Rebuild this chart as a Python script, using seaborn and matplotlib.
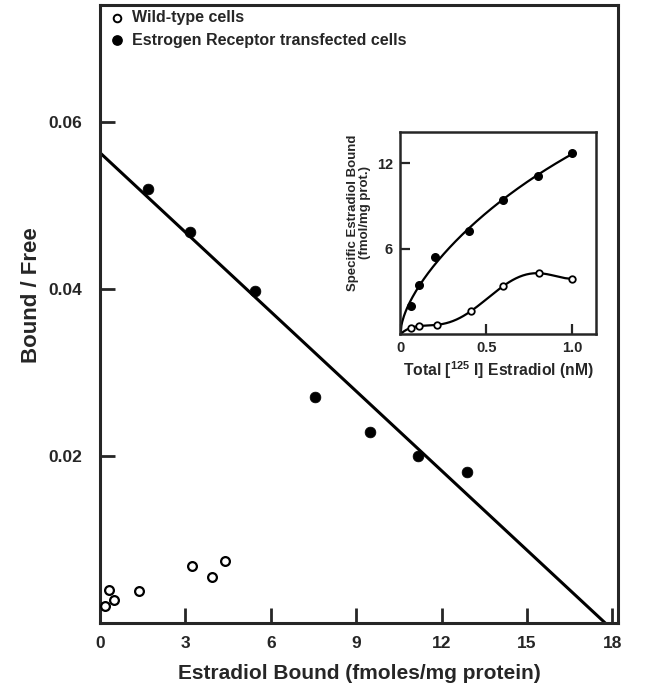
import numpy as np
import pandas as pd
import matplotlib
matplotlib.use("Agg")
import matplotlib.pyplot as plt
import seaborn as sns

# ---- Main Scatchard plot data ----
er_bound = [1.68, 3.16, 5.44, 7.54, 9.47, 11.16, 12.88]
er_ratio = [0.0520, 0.0468, 0.0398, 0.0271, 0.0229, 0.0200, 0.0181]
wt_bound = [0.17, 0.32, 0.49, 1.37, 3.22, 3.95, 4.40]
wt_ratio = [0.0020, 0.0039, 0.0028, 0.0038, 0.0068, 0.0055, 0.0074]
line_x = [0.0, 17.75]
line_y = [0.0563, 0.0]
main_xticks = [0, 3, 6, 9, 12, 15, 18]
main_yticks = [0.02, 0.04, 0.06]

# ---- Inset saturation data ----
ins_conc = [0.0, 0.06, 0.11, 0.20, 0.40, 0.60, 0.80, 1.00]
ins_er = [0.0, 1.96, 3.43, 5.42, 7.24, 9.45, 11.10, 12.74]
ins_conc_wt = [0.0, 0.06, 0.11, 0.21, 0.41, 0.60, 0.81, 1.00]
ins_wt = [0.0, 0.42, 0.56, 0.66, 1.59, 3.39, 4.27, 3.90]
ins_xticks = [0, 0.5, 1.0]
ins_xticklabels = ["0", "0.5", "1.0"]
ins_yticks = [6, 12]

sns.set_style("ticks")
plt.rcParams["font.family"] = ["Liberation Sans", "DejaVu Sans"]
plt.rcParams["font.weight"] = "bold"
plt.rcParams["mathtext.fontset"] = "custom"
plt.rcParams["mathtext.rm"] = "Liberation Sans:bold"
plt.rcParams["mathtext.it"] = "Liberation Sans:bold"
plt.rcParams["mathtext.bf"] = "Liberation Sans:bold"

fig = plt.figure(figsize=(6.54, 6.91), dpi=100)
ax = fig.add_axes([0.153, 0.0984, 0.792, 0.8944])

df_er = pd.DataFrame({"x": er_bound, "y": er_ratio})
df_wt = pd.DataFrame({"x": wt_bound, "y": wt_ratio})
df_line = pd.DataFrame({"x": line_x, "y": line_y})

sns.lineplot(data=df_line, x="x", y="y", ax=ax, color="black", lw=2.2)
sns.scatterplot(data=df_er, x="x", y="y", ax=ax, color="black", s=60,
                edgecolor="black", linewidth=0.5, zorder=3)
ax.scatter(df_wt["x"], df_wt["y"], s=40, facecolors="white",
           edgecolors="black", linewidths=1.6, zorder=3)

ax.set_xlim(0, 18.2)
ax.set_ylim(0, 0.074)
ax.set_xticks(main_xticks)
ax.set_xticklabels([str(t) for t in main_xticks])
ax.set_yticks(main_yticks)
ax.set_yticklabels(["0.02", "0.04", "0.06"])
ax.tick_params(direction="in", length=11, width=2, labelsize=12.5)
ax.tick_params(axis="y", pad=13)
ax.tick_params(axis="x", pad=9)
for s in ax.spines.values():
    s.set_linewidth(2.2)
    s.set_visible(True)
ax.set_xlabel("Estradiol Bound (fmoles/mg protein)", fontsize=15,
              fontweight="bold", labelpad=10)
ax.set_ylabel("Bound / Free", fontsize=16, fontweight="bold")
ax.yaxis.set_label_coords(-0.113, 0.53)

# legend-like labels
ax.scatter([0.6], [0.0725], s=30, facecolors="white", edgecolors="black",
           linewidths=1.4)
ax.text(1.12, 0.0725, "Wild-type cells", fontsize=11.5, fontweight="bold",
        va="center")
ax.scatter([0.6], [0.0698], s=45, color="black")
ax.text(1.12, 0.0698, "Estrogen Receptor transfected cells", fontsize=11.5,
        fontweight="bold", va="center")

# ---- Inset ----
ins = fig.add_axes([0.6116, 0.5166, 0.2997, 0.2923])

# smooth curves fitted to the data
s = np.sqrt(np.array(ins_conc))
A = np.vstack([s, s**2, s**3]).T
coef, *_ = np.linalg.lstsq(A, np.array(ins_er), rcond=None)
xf = np.linspace(0, 1.0, 200)
sf = np.sqrt(xf)
yf = coef[0]*sf + coef[1]*sf**2 + coef[2]*sf**3
sns.lineplot(x=xf, y=yf, ax=ins, color="black", lw=1.6)

p = np.polyfit(ins_conc_wt, ins_wt, 5)
yw = np.polyval(p, xf)
sns.lineplot(x=xf, y=yw, ax=ins, color="black", lw=1.6)

ins.scatter(ins_conc[1:], ins_er[1:], s=30, color="black", zorder=3)
ins.scatter(ins_conc_wt[1:], ins_wt[1:], s=22, facecolors="white",
            edgecolors="black", linewidths=1.3, zorder=3)

ins.set_xlim(-0.003, 1.14)
ins.set_ylim(0, 14.2)
ins.set_xticks(ins_xticks)
ins.set_xticklabels(ins_xticklabels)
ins.set_yticks(ins_yticks)
ins.set_yticklabels([str(t) for t in ins_yticks])
ins.tick_params(direction="in", length=7, width=1.6, labelsize=10.5, pad=5)
for sp in ins.spines.values():
    sp.set_linewidth(1.8)
    sp.set_visible(True)
ins.set_xlabel("Total [$^{125}$ I] Estradiol (nM)", fontsize=11.3,
               fontweight="bold", labelpad=3)
ins.set_ylabel("Specific Estradiol Bound\n(fmol/mg prot.)", fontsize=9.5,
               fontweight="bold", linespacing=0.95)
ins.yaxis.set_label_coords(-0.15, 0.60)

fig.savefig("out.png", dpi=100)
